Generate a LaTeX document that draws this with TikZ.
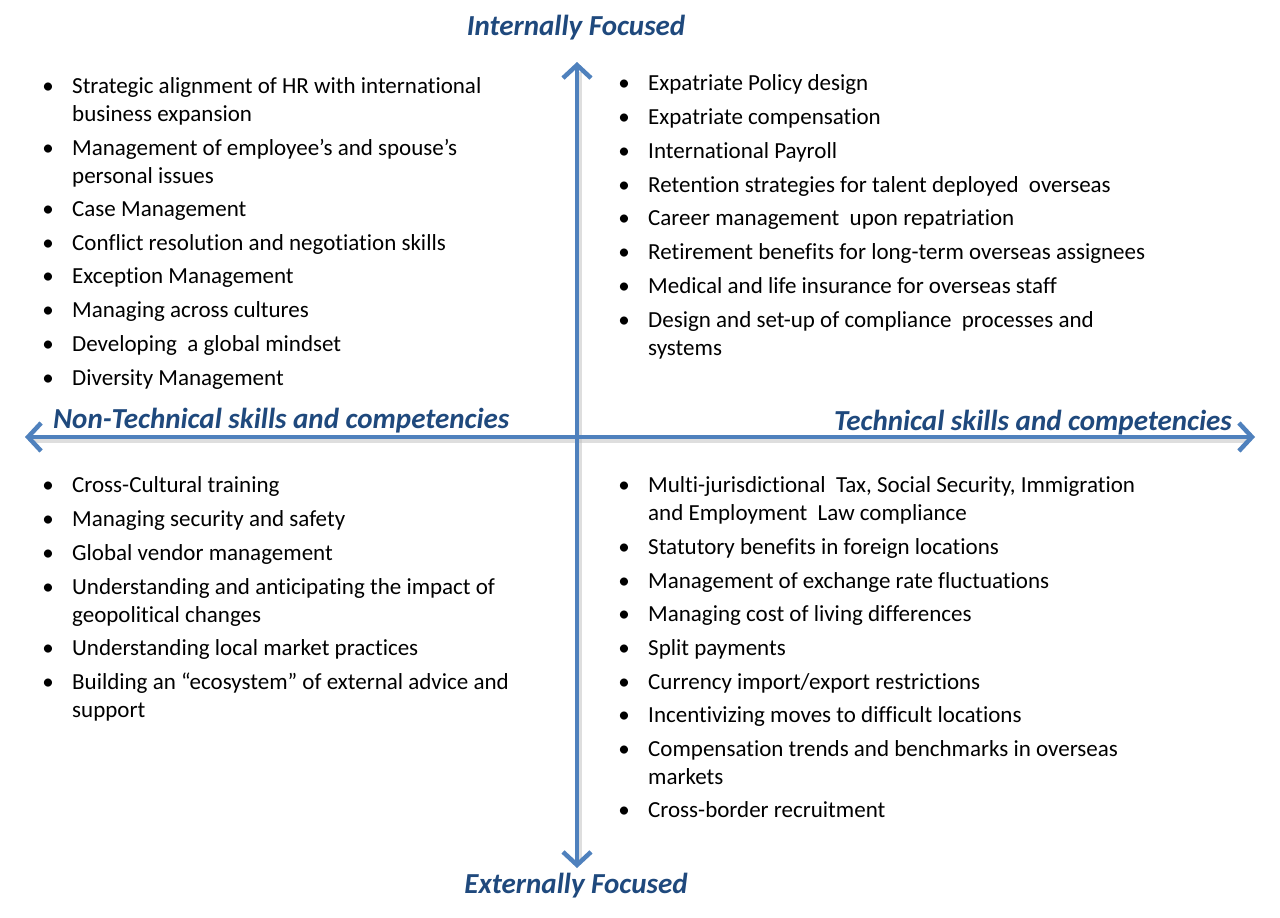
\documentclass[tikz,border=0pt]{standalone}
\usepackage{fontspec}
\setmainfont{Carlito}[Ligatures=NoCommon]
\usetikzlibrary{arrows.meta}
\definecolor{axisblue}{HTML}{4F81BD}
\definecolor{titleblue}{HTML}{1F497D}
\newcommand{\ml}[1]{\begin{tabular}[t]{@{}l@{}}#1\end{tabular}}
\tikzset{
  axis/.style={line width=4.5pt, draw=axisblue, {Straight Barb[length=13pt,width=28pt,line width=4.5pt]}-{Straight Barb[length=13pt,width=28pt,line width=4.5pt]}},
  axisshadow/.style={line width=5pt, draw=black!25, opacity=0.5},
  title/.style={font=\fontsize{29}{32}\selectfont\bfseries\itshape, text=titleblue, inner sep=0pt},
  item/.style={font=\fontsize{23}{28}\selectfont, text=black, anchor=base west, inner sep=0pt},
  bullet/.style={font=\fontsize{23}{28}\selectfont, text=black, anchor=base, inner sep=0pt}
}
\begin{document}
\begin{tikzpicture}[x=1pt,y=-1pt]
\useasboundingbox (0,0) rectangle (1280,918);
\fill[white] (0,0) rectangle (1280,918);
% axes
\coordinate (top) at (577,62);
\coordinate (bot) at (577,868);
\coordinate (left) at (25,437);
\coordinate (right) at (1255,437);
\draw[axisshadow] (579,72) -- (579,862);
\draw[axisshadow] (32,440) -- (1248,440);
\draw[axis] (top) -- (bot);
\draw[axis] (left) -- (right);
% titles
\node[title] (tin) at (576,28) {Internally Focused};
\node[title] (tex) at (576,886) {Externally Focused};
\node[title, anchor=west] (tnt) at (53,421) {Non-Technical skills and competencies};
\node[title, anchor=east] (tt) at (1232,423) {Technical skills and competencies};
% top-left
\foreach \y/\t [count=\i] in {
 93/{\ml{Strategic alignment of HR with international\\business expansion}},
 155/{\ml{Management of employee’s and spouse’s\\personal issues}},
 216/{Case Management},
 250/{Conflict resolution and negotiation skills},
 283/{Exception Management},
 317/{Managing across cultures},
 351/{Developing\ \ a global mindset},
 385/{Diversity Management}}{
 \node[bullet] (tlb\i) at (48,\y) {\textbullet};
 \node[item] (tl\i) at (72,\y) {\t};
}
% top-right
\foreach \y/\t [count=\i] in {
 90/{Expatriate Policy design},
 124/{Expatriate compensation},
 158/{International Payroll},
 192/{Retention strategies for talent deployed\ \ overseas},
 225/{Career management\ \ upon repatriation},
 259/{Retirement benefits for long-term overseas assignees},
 293/{Medical and life insurance for overseas staff},
 327/{\ml{Design and set-up of compliance\ \ processes and\\systems}}}{
 \node[bullet] (trb\i) at (624,\y) {\textbullet};
 \node[item] (tr\i) at (648,\y) {\t};
}
% bottom-left
\foreach \y/\t [count=\i] in {
 492/{Cross-Cultural training},
 526/{Managing security and safety},
 560/{Global vendor management},
 594/{\ml{Understanding and anticipating the impact of\\geopolitical changes}},
 655/{Understanding local market practices},
 689/{\ml{Building an “ecosystem” of external advice and\\support}}}{
 \node[bullet] (blb\i) at (48,\y) {\textbullet};
 \node[item] (bl\i) at (72,\y) {\t};
}
% bottom-right
\foreach \y/\t [count=\i] in {
 492/{\ml{Multi-jurisdictional\ \ Tax, Social Security, Immigration\\and Employment\ \ Law compliance}},
 554/{Statutory benefits in foreign locations},
 588/{Management of exchange rate fluctuations},
 621/{Managing cost of living differences},
 655/{Split payments},
 689/{Currency import/export restrictions},
 722/{Incentivizing moves to difficult locations},
 756/{\ml{Compensation trends and benchmarks in overseas\\markets}},
 817/{Cross-border recruitment}}{
 \node[bullet] (brb\i) at (624,\y) {\textbullet};
 \node[item] (br\i) at (648,\y) {\t};
}
\end{tikzpicture}
\end{document}
